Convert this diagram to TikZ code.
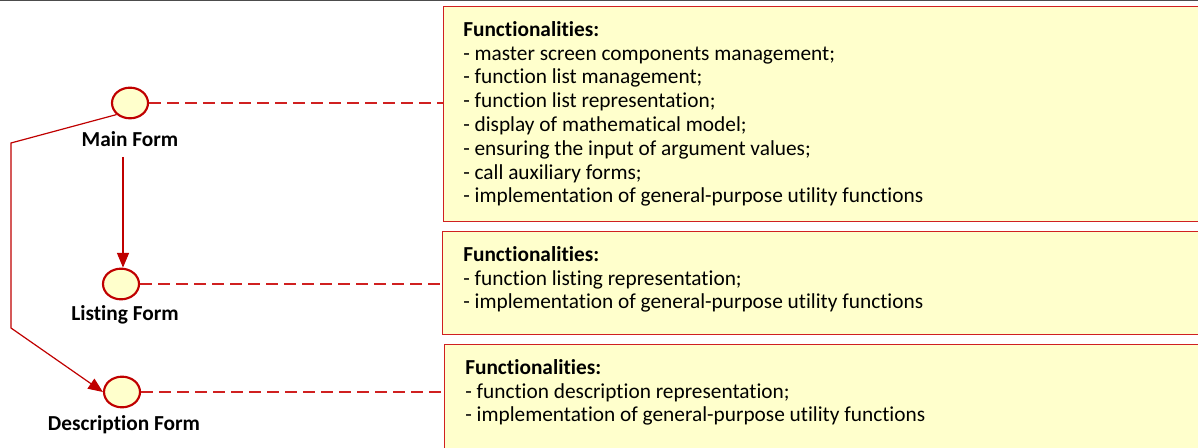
\documentclass[tikz,border=0pt]{standalone}
\usepackage{fontspec}
\setmainfont{Carlito}[Ligatures=CommonOff]
\usetikzlibrary{arrows.meta,shapes.geometric}
\definecolor{fillyel}{HTML}{FFFFCC}
\definecolor{dred}{HTML}{C00000}
\definecolor{bred}{HTML}{D02020}
\tikzset{
  formcirc/.style={ellipse, draw=dred, line width=1.6pt, fill=fillyel, minimum width=27pt, minimum height=23pt, inner sep=0pt},
  formlabel/.style={font=\fontsize{16}{19}\selectfont\bfseries, text=black, inner sep=0pt},
  funcbox/.style={draw=bred, line width=1.1pt, fill=fillyel, anchor=north west, inner sep=0pt},
  functext/.style={anchor=north west, align=left, inner sep=0pt, font=\fontsize{16}{17.85}\selectfont, text=black},
  dashlink/.style={draw=bred, line width=0.9pt, dash pattern=on 9pt off 4.5pt},
  solidlink/.style={draw=dred, line width=0.9pt},
  arrowtip/.style={-{Triangle[length=11pt,width=9pt]}}
}
\begin{document}
\begin{tikzpicture}[x=0.75pt,y=-0.75pt]
\useasboundingbox (0,0) rectangle (1198,448);
\clip (0,0) rectangle (1198,448);
\fill[white] (0,0) rectangle (1198,448);
\draw[line width=1.5pt, black!70] (0,0.5) -- (1198,0.5);
% boxes
\node[funcbox, minimum width=570pt, minimum height=161.25pt] (b1) at (443,6) {};
\node[funcbox, minimum width=570pt, minimum height=77.25pt] (b2) at (442,231) {};
\node[funcbox, minimum width=570pt, minimum height=90pt] (b3) at (444,344) {};
\node[functext] (t1) at (463,21) {\textbf{Functionalities:}\\
- master screen components management;\\
- function list management;\\
- function list representation;\\
- display of mathematical model;\\
- ensuring the input of argument values;\\
- call auxiliary forms;\\
- implementation of general-purpose utility functions};
\node[functext] (t2) at (463,246) {\textbf{Functionalities:}\\
- function listing representation;\\
- implementation of general-purpose utility functions};
\node[functext] (t3) at (465,359) {\textbf{Functionalities:}\\
- function description representation;\\
- implementation of general-purpose utility functions};
% circles
\node[formcirc] (c1) at (130,103) {};
\node[formcirc] (c2) at (121,284) {};
\node[formcirc] (c3) at (122,392) {};
\node[formlabel] (l1) at (130,139) {Main Form};
\node[formlabel] (l2) at (125,315) {Listing Form};
\node[formlabel] (l3) at (124,425) {Description Form};
% dashed links
\draw[dashlink] (c1.east) -- (b1.west |- c1.east);
\draw[dashlink] (c2.east) -- (b2.west |- c2.east);
\draw[dashlink] (c3.east) -- (b3.west |- c3.east);
% arrows
\coordinate (s2) at (123,157);
\draw[solidlink, arrowtip] (s2) -- (c2.north -| s2);
\coordinate (k1) at (11,143);
\coordinate (k2) at (11,328);
\draw[solidlink, arrowtip] (c1.south west) -- (k1) -- (k2) -- (c3.west);
\end{tikzpicture}
\end{document}
